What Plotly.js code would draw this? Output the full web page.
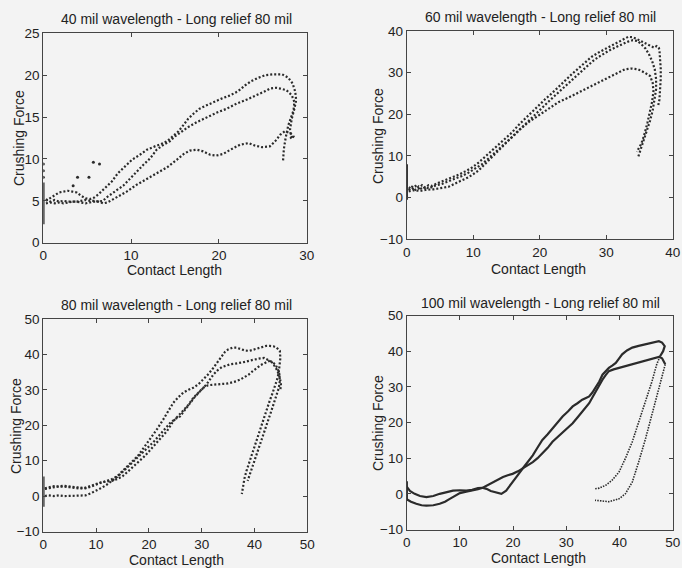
<!DOCTYPE html>
<html>
<head>
<meta charset="utf-8">
<script src="https://cdn.plot.ly/plotly-3.0.1.min.js"></script>
<style>html,body{margin:0;padding:0;background:#f3f3f3;}#chart{width:682px;height:568px;}</style>
</head>
<body>
<div id="chart"></div>
<script>
// ---------- Panel titles ----------
const panelTitles = [
  "40 mil wavelength - Long relief 80 mil",
  "60 mil wavelength - Long relief 80 mil",
  "80 mil wavelength - Long relief 80 mil",
  "100 mil wavelength - Long relief 80 mil"
];
const xTitle = "Contact Length";
const yTitle = "Crushing Force";

// ---------- Panel 1 (40 mil) ----------
const p1aX = [0.3,0.8,1.3,1.8,2.3,2.8,3.3,3.8,4.3,4.8,5.3,5.8,6.3,6.8,7.3,7.8,8.5,9.3,10.1,11.0,11.8,12.7,13.7,14.2,14.8,15.4,16.0,16.5,17.1,17.8,18.6,19.4,20.3,21.3,22.2,23.0,23.7,24.5,25.3,26.2,27.2,27.9,28.4,28.7,28.8,28.6,28.3,28.1,28.2,28.4];
const p1aY = [5.0,5.3,5.7,6.0,6.1,6.2,6.1,6.0,5.6,5.3,5.2,5.4,5.8,6.3,6.8,7.3,8.3,9.1,9.9,10.5,11.1,11.5,11.9,12.2,12.7,13.3,14.1,14.8,15.4,16.0,16.4,16.8,17.2,17.6,18.1,18.8,19.3,19.7,20.0,20.1,20.1,19.7,19.0,18.0,17.0,16.0,14.8,13.5,12.8,12.5];
const p1bX = [0.3,0.8,1.3,1.8,2.3,2.8,3.3,3.8,4.3,4.8,5.3,5.8,6.3,6.8,7.2,7.8,8.4,9.1,9.9,10.6,11.4,12.2,12.9,13.7,14.4,15.0,15.8,16.5,17.5,18.6,19.7,20.9,22.0,23.2,24.3,25.3,25.8,26.5,27.0,27.7,28.3,28.6,28.5,28.2,27.9,27.6,27.4,27.3];
const p1bY = [5.2,4.9,5.1,4.9,5.0,4.9,4.9,4.9,5.0,5.1,5.0,5.0,4.9,5.0,5.4,5.9,6.3,6.8,7.7,8.5,9.3,10.1,11.1,11.7,12.1,12.7,13.3,13.8,14.4,15.0,15.5,16.0,16.6,17.1,17.6,18.1,18.4,18.5,18.4,18.2,17.6,16.8,15.8,14.8,14.0,12.5,11.2,9.7];
const p1cX = [0.3,0.8,1.3,1.8,2.3,2.8,3.3,3.8,4.3,4.8,5.3,5.8,6.3,6.8,7.3,8.0,8.7,9.5,10.6,11.8,12.9,14.1,15.2,16.0,16.7,17.5,18.2,19.0,19.7,20.5,21.3,22.4,23.4,24.1,24.9,25.8,26.4,27.0,27.5,28.1,28.5,28.3,28.0];
const p1cY = [4.7,4.8,4.7,4.8,4.7,4.8,4.9,4.9,4.8,4.7,4.8,4.9,4.9,4.7,4.8,5.2,5.6,6.1,6.9,7.6,8.3,9.0,9.9,10.6,11.0,11.1,10.9,10.5,10.4,10.6,11.1,11.7,11.9,11.6,11.4,11.5,12.1,12.9,13.3,13.1,12.7,12.4,12.8];
const p1oX = [3.4,3.9,5.2,5.7,6.4];
const p1oY = [6.8,7.8,7.8,9.6,9.4];
const p1sY = [2.2,7.2];
const p1sDotsY = [7.8,8.6,9.4];

// ---------- Panel 2 (60 mil) ----------
const p2aX = [0.3,0.8,1.3,1.8,2.3,2.8,3.3,3.8,4.8,5.8,6.8,7.8,8.8,9.8,10.8,11.8,12.8,13.8,14.8,15.8,16.8,17.8,18.8,19.8,20.8,21.8,22.8,23.8,24.8,25.8,26.8,27.8,28.8,29.8,30.8,31.8,32.6,33.3,34.0,34.7,35.4,36.1,36.7,37.2,37.6,37.9,38.0,38.1,38.2,38.2,38.1,38.0,37.8];
const p2aY = [2.5,2.0,2.8,2.2,3.0,2.4,3.0,2.8,3.6,4.2,4.8,5.5,6.3,7.2,8.4,9.8,11.3,12.6,14.0,15.6,17.4,19.0,20.6,22.2,23.6,25.0,26.6,28.2,29.6,31.0,32.4,33.8,34.8,35.6,36.4,37.2,38.0,38.6,38.5,38.0,37.4,36.8,36.3,36.0,36.4,36.0,35.5,33.5,31.0,28.5,26.0,23.5,22.0];
const p2bX = [0.3,0.8,1.3,1.8,2.3,2.8,3.3,4.3,5.3,6.3,7.3,8.3,9.3,10.3,11.3,12.3,13.3,14.3,15.3,16.3,17.3,18.3,19.3,20.3,21.3,22.3,23.3,24.3,25.3,26.3,27.3,28.3,29.3,30.3,31.3,32.3,33.2,34.0,34.7,35.3,35.9,36.4,36.9,37.3,37.5,37.5,37.3,37.0,36.6,36.1,35.6,35.1,34.8];
const p2bY = [1.8,2.6,1.9,2.7,2.0,2.6,2.2,2.9,3.3,3.9,4.5,5.2,6.0,6.9,8.0,9.4,10.8,12.2,13.6,15.2,16.8,18.4,20.0,21.6,23.0,24.5,26.0,27.5,29.0,30.4,31.8,33.2,34.3,35.2,36.0,36.8,37.4,37.8,37.6,36.8,35.8,34.5,32.8,30.8,28.5,26.0,23.5,21.0,18.5,16.0,13.5,11.5,9.7];
const p2cX = [0.3,1.0,2.0,3.0,4.0,5.0,6.3,7.8,9.3,10.8,12.3,13.8,15.3,16.8,18.3,19.8,21.3,22.8,24.3,25.8,27.3,28.8,30.3,31.8,32.8,33.8,34.8,35.8,36.6,37.0,37.1,36.9,36.6,36.2,35.8,35.3,34.6];
const p2cY = [1.5,1.8,1.6,1.9,2.0,2.3,2.6,3.8,4.9,6.5,8.9,11.3,13.7,16.1,18.1,19.7,21.3,22.9,24.0,25.2,26.4,27.6,28.8,30.0,30.8,31.0,30.8,30.0,29.2,27.5,25.5,23.0,20.5,18.0,15.5,13.0,11.0];
const p2sY = [-0.5,8.0];

// ---------- Panel 3 (80 mil) ----------
const p3aX = [0.3,1,2,3,4,5,6,7,8,9,10,11,12,13,14,15,16,17,18,19,20.2,21.5,22.7,23.7,24.6,25.5,26.5,27.5,28.4,29.4,30.3,31.3,32.2,33.0,33.8,34.4,35.0,35.8,36.6,37.4,38.2,39.0,39.8,40.6,41.4,42.2,42.9,43.6,44.2,44.8,44.9,44.8,44.6,44.3,43.9,43.4,42.9,42.4,41.9,41.4,40.9,40.4,39.9,39.4,38.9,38.5,38.1,37.8,37.6];
const p3aY = [2.0,2.2,2.6,2.8,2.9,2.7,2.5,2.3,2.2,2.6,3.3,3.8,4.3,4.8,5.6,7.0,8.5,10.0,11.5,13.5,15.9,18.8,21.6,24.0,26.3,27.8,29.2,30.0,30.6,31.6,32.9,34.5,36.2,37.9,39.5,40.7,41.4,41.9,41.9,41.4,41.1,41.0,41.4,41.8,42.1,42.4,42.4,42.3,41.9,41.0,39.0,37.0,35.0,33.0,31.0,29.0,27.0,24.8,22.6,20.4,18.2,16.0,13.8,11.6,9.4,7.2,5.0,2.8,0.6];
const p3bX = [0.3,1,2,3,4,5,6,7,8,9,10,11,12,13,14,15,16,17,18,19,20,21,22,23,24,25,25.9,26.8,27.8,28.7,29.7,30.9,32.2,33.0,33.8,34.6,35.4,36.4,37.3,38.2,39.2,40.2,41.1,41.8,42.4,43.3,43.9,44.4,44.7,44.8,44.6,44.2,43.7,43.2,42.7,42.2,41.7,41.2,40.7,40.2,39.7,39.2,38.7];
const p3bY = [0.0,0.2,0.0,0.2,0.0,0.1,0.0,0.1,0.2,0.8,1.5,2.3,3.2,4.2,5.4,6.8,8.2,9.7,11.2,12.6,14.0,15.5,17.1,18.8,20.6,21.8,22.5,24.3,26.3,28.0,29.6,31.5,34.3,35.5,36.4,36.9,37.2,37.4,37.6,37.9,38.3,38.7,38.9,39.0,38.6,37.9,37.2,36.0,34.5,32.5,30.5,28.5,26.3,24.1,21.9,19.7,17.5,15.3,13.1,10.9,8.7,6.5,4.3];
const p3cX = [0.3,1,2,3,4,5,6,7,8,9,10,11,12,13,14,15,16,17,18,19,20,21,22,23.4,24.6,25.5,26.5,27.5,28.4,29.4,30.3,31.2,32.2,33.2,34.1,35.0,35.7,36.5,37.3,38.1,38.9,39.6,40.4,41.2,42.0,42.6,43.0,43.6,44.3,44.8,45.0,44.9];
const p3cY = [2.2,2.4,2.8,2.6,2.7,2.5,2.3,2.1,2.4,2.9,3.5,3.9,4.1,4.3,4.8,5.6,6.9,8.2,9.6,11.0,12.6,14.2,15.8,18.3,21.1,22.6,24.0,25.8,27.7,29.3,30.6,31.3,31.5,31.6,31.7,31.8,32.0,32.4,32.9,33.5,34.3,35.2,36.2,37.0,37.6,38.1,38.3,37.2,35.5,33.5,31.5,30.0];
const p3sY = [-3.0,5.5];

// ---------- Panel 4 (100 mil) ----------
const p4aX = [0,0.6,1.5,2.5,3.7,5.0,6.2,7.5,8.7,10.0,11.2,12.3,13.4,14.2,15.0,15.8,16.5,17.2,17.8,18.7,19.6,20.6,21.8,22.7,23.7,24.6,25.5,26.5,27.4,28.4,29.3,30.3,31.2,32.1,33.0,33.7,34.3,34.9,35.5,36.2,36.8,37.4,38.0,38.7,39.3,39.9,40.5,41.4,42.4,43.6,44.9,45.8,46.7,47.4,48.0,48.5,48.2,47.6];
const p4aY = [2.0,0.8,0.0,-0.6,-0.9,-0.6,0.0,0.5,0.9,1.0,0.9,1.1,1.6,1.7,1.4,0.8,0.5,0.1,0.0,0.9,2.6,4.7,7.1,8.9,10.8,13.0,15.1,16.7,18.4,20.1,21.7,23.1,24.5,25.4,26.4,26.9,27.3,28.4,29.7,31.5,33.4,34.4,35.3,36.0,36.7,37.9,39.1,40.2,41.0,41.5,41.9,42.3,42.6,42.8,42.4,41.4,40.0,38.5];
const p4aDownX = [47.6,47.0,46.1,44.9,43.6,42.4,41.1,39.9,38.6,37.4,36.2,35.3];
const p4aDownY = [38.5,36.3,31.5,25.9,20.2,14.6,9.9,6.1,3.8,2.4,1.6,1.4];
const p4bX = [0,0.8,1.8,2.8,3.7,5.0,6.2,7.2,8.1,9.0,10.0,11.2,12.5,13.4,14.3,15.2,16.2,17.2,18.1,19.0,19.9,20.9,21.8,22.8,23.7,24.6,25.5,26.5,27.4,28.4,29.3,30.3,31.2,32.1,33.0,33.7,34.3,34.9,35.5,36.2,36.8,37.4,38.0,38.9,39.9,41.1,42.4,43.6,44.9,45.8,46.7,47.4,48.0,48.6];
const p4bY = [-1.5,-2.2,-2.8,-3.2,-3.3,-3.2,-2.8,-2.2,-1.4,-0.6,0.2,0.6,0.9,1.3,1.7,2.4,3.3,4.0,4.7,5.2,5.6,6.3,7.1,8.0,8.9,10.0,11.3,12.9,14.6,16.0,17.4,18.6,19.8,21.4,23.1,24.2,25.4,27.0,28.7,30.4,32.0,33.3,34.4,34.9,35.3,35.8,36.3,36.8,37.2,37.6,38.1,38.4,38.0,36.3];
const p4bDownX = [48.6,48.2,47.4,46.1,44.9,43.6,42.4,41.1,39.9,38.0,36.1,35.4];
const p4bDownY = [36.3,34.0,29.7,22.1,15.5,8.9,3.3,0.0,-1.4,-2.2,-1.9,-1.8];
const p4sY = [-2.0,3.5];

// ---------- Axes ranges / ticks ----------
const xRanges = [[0,30],[0,40],[0,50],[0,50]];
const yRanges = [[0,25],[-10,40],[-10,50],[-10,50]];
const yDticks = [5,10,10,10];

// ---------- Build ----------
const INK = '#2b2b2b';
const FONT = 'Liberation Sans, Arial, sans-serif';
function dotted(x, y, ax, w, dash) {
  return {x: x, y: y, xaxis: 'x'+ax, yaxis: 'y'+ax, type: 'scatter', mode: 'lines',
    line: {color: INK, width: w || 2.2, dash: dash || '2px,2px'}, hoverinfo: 'skip', showlegend: false};
}
function solid(x, y, ax, w) {
  return {x: x, y: y, xaxis: 'x'+ax, yaxis: 'y'+ax, type: 'scatter', mode: 'lines',
    line: {color: INK, width: w || 2.2}, hoverinfo: 'skip', showlegend: false};
}
function dots(x, y, ax) {
  return {x: x, y: y, xaxis: 'x'+ax, yaxis: 'y'+ax, type: 'scatter', mode: 'markers',
    marker: {color: INK, size: 3}, hoverinfo: 'skip', showlegend: false};
}
const traces = [
  dotted(p1aX, p1aY, ''), dotted(p1bX, p1bY, ''), dotted(p1cX, p1cY, ''),
  dots(p1oX, p1oY, ''), solid([0,0], p1sY, '', 2.5), dots([0,0,0], p1sDotsY, ''),
  dotted(p2aX, p2aY, 2), dotted(p2bX, p2bY, 2), dotted(p2cX, p2cY, 2), solid([0,0], p2sY, 2, 2.5),
  dotted(p3aX, p3aY, 3), dotted(p3bX, p3bY, 3), dotted(p3cX, p3cY, 3), solid([0,0], p3sY, 3, 2.5),
  solid(p4aX, p4aY, 4, 2.2), solid(p4bX, p4bY, 4, 2.2),
  dotted(p4aDownX, p4aDownY, 4, 1.6, '1.5px,1.2px'), dotted(p4bDownX, p4bDownY, 4, 1.6, '1.5px,1.2px'),
  solid([0,0], p4sY, 4, 2.5)
];

const W = 682, H = 568;
// plot boxes in pixels: [left, right, top, bottom]
const boxes = [[43.3,306.7,33.3,242.7],[406.7,672.7,31.0,239.3],[43.3,307.3,319.0,531.5],[406.7,672.7,315.5,529.5]];
const layout = {
  width: W, height: H, margin: {l:0, r:0, t:0, b:0},
  paper_bgcolor: '#f3f3f3', plot_bgcolor: '#f3f3f3',
  font: {family: FONT, size: 14, color: '#222'},
  showlegend: false, annotations: []
};
const titleCenters = [[176,19],[540,17],[176,305],[540,303]];
const xTitlePos = [[174,270],[538,269],[176,560],[538,557.5]];
const yTitlePos = [[19,138],[378,136],[16,426],[378,423]];
boxes.forEach((b, i) => {
  const s = i === 0 ? '' : String(i+1);
  const common = {showline: true, linecolor: '#444', linewidth: 1, mirror: 'ticks', ticks: 'inside',
    ticklen: 4, tickcolor: '#444', showgrid: false, zeroline: false,
    tickfont: {family: FONT, size: 13.5, color: '#222'}, fixedrange: true};
  layout['xaxis'+s] = Object.assign({}, common, {domain: [b[0]/W, b[1]/W], range: xRanges[i], dtick: 10,
    tick0: 0, anchor: 'y'+s});
  layout['yaxis'+s] = Object.assign({}, common, {domain: [1-b[3]/H, 1-b[2]/H], range: yRanges[i], dtick: yDticks[i],
    tick0: 0, anchor: 'x'+s});
  layout.annotations.push({text: panelTitles[i], xref: 'paper', yref: 'paper', x: titleCenters[i][0]/W, y: 1-titleCenters[i][1]/H,
    xanchor: 'center', yanchor: 'middle', showarrow: false, font: {family: FONT, size: 14, color: '#222'}});
  layout.annotations.push({text: xTitle, xref: 'paper', yref: 'paper', x: xTitlePos[i][0]/W, y: 1-xTitlePos[i][1]/H,
    xanchor: 'center', yanchor: 'middle', showarrow: false, font: {family: FONT, size: 14, color: '#222'}});
  layout.annotations.push({text: yTitle, xref: 'paper', yref: 'paper', x: yTitlePos[i][0]/W, y: 1-yTitlePos[i][1]/H,
    xanchor: 'center', yanchor: 'middle', textangle: -90, showarrow: false, font: {family: FONT, size: 14, color: '#222'}});
});
Plotly.newPlot('chart', traces, layout, {staticPlot: true, displayModeBar: false});
</script>
</body>
</html>
